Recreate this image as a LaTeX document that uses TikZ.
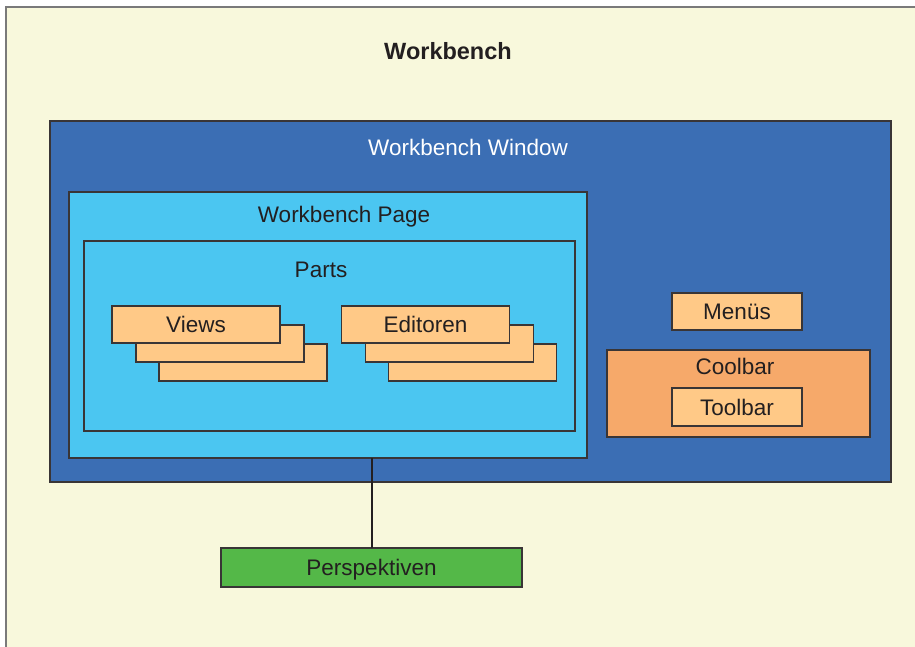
\documentclass[tikz,border=0pt]{standalone}
\usepackage{fontspec}
\setmainfont{Liberation Sans}
\definecolor{bgcream}{HTML}{F8F8DC}
\definecolor{framegray}{HTML}{7A7A7A}
\definecolor{winblue}{HTML}{3B6EB4}
\definecolor{pageblue}{HTML}{4BC6F1}
\definecolor{partorange}{HTML}{FFC987}
\definecolor{coolorange}{HTML}{F6A96A}
\definecolor{perspgreen}{HTML}{54B848}
\definecolor{ink}{HTML}{231F20}
\begin{document}
\begin{tikzpicture}[x=1pt,y=-1pt,
  box/.style={draw=ink!90, line width=1.3pt, inner sep=0pt, outer sep=0pt},
  lbl/.style={inner sep=0pt, text depth=0pt, text=ink, font=\fontsize{22.5}{26}\selectfont},
  part/.style={box, fill=partorange, minimum width=168pt, minimum height=37pt}]
  % canvas and frame
  \useasboundingbox (0,0) rectangle (915,647);
  \fill[white] (0,0) rectangle (915,647);
  \fill[bgcream] (6,7) rectangle (915,647);
  \draw[framegray, line width=2pt] (6,647) -- (6,7) -- (915,7);
  \node[lbl, font=\fontsize{23.5}{27}\selectfont\bfseries] (title) at (448,51) {Workbench};

  % workbench window
  \node[box, fill=winblue, minimum width=841pt, minimum height=361pt] (window) at (470.5,301.5) {};
  \node[lbl, text=white] (wintitle) at (468,147.5) {Workbench Window};

  % workbench page with parts
  \node[box, fill=pageblue, minimum width=518pt, minimum height=266pt] (page) at (328,325) {};
  \node[lbl] (pagetitle) at (344,214.5) {Workbench Page};
  \node[box, fill=pageblue, minimum width=491pt, minimum height=190pt] (parts) at (329.5,336) {};
  \node[lbl] (partstitle) at (321,269.5) {Parts};

  % views stack
  \node[part] (views3) at (243,362.5) {};
  \node[part] (views2) at (220,343.5) {};
  \node[part] (views1) at (196,324.5) {};
  \node[lbl] at (views1) {Views};

  % editors stack
  \node[part] (edit3) at (472.5,362.5) {};
  \node[part] (edit2) at (449.5,343.5) {};
  \node[part] (edit1) at (425.5,324.5) {};
  \node[lbl] at (edit1) {Editoren};

  % menus and coolbar
  \node[box, fill=partorange, minimum width=130pt, minimum height=37pt] (menus) at (737,311.5) {};
  \node[lbl] at (menus) {Menüs};
  \node[box, fill=coolorange, minimum width=263pt, minimum height=87pt] (coolbar) at (738.5,393.5) {};
  \node[lbl] (cooltitle) at (735,366) {Coolbar};
  \node[box, fill=partorange, minimum width=130pt, minimum height=38pt] (toolbar) at (737,407) {};
  \node[lbl] at (toolbar) {Toolbar};

  % perspectives
  \node[box, fill=perspgreen, minimum width=301pt, minimum height=39pt] (persp) at (371.5,567.5) {};
  \node[lbl] at (persp) {Perspektiven};
  \draw[ink, line width=2pt] (persp.north) -- (persp.north |- page.south);
\end{tikzpicture}
\end{document}
